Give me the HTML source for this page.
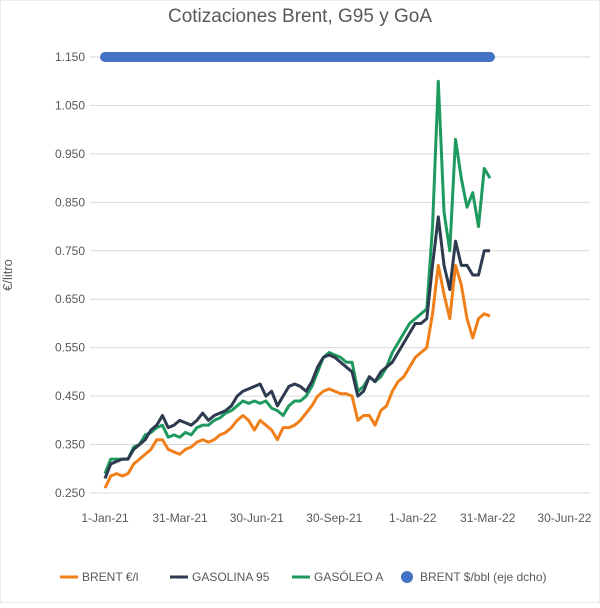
<!DOCTYPE html>
<html><head><meta charset="utf-8"><style>
body{margin:0;background:#fff;font-family:"Liberation Sans",sans-serif}
svg text{font-family:"Liberation Sans",sans-serif;fill:#595959}
</style></head><body>
<svg width="600" height="603">
<rect width="600" height="603" fill="#fff" stroke="#d9d9d9"/>
<text x="300" y="22" text-anchor="middle" font-size="19">Cotizaciones Brent, G95 y GoA</text>
<text transform="translate(12,275) rotate(-90)" text-anchor="middle" font-size="13">€/litro</text>
<g id="grid"></g><g id="xt"></g><g id="series"></g><g id="dots"></g>
<g id="legend" font-size="12"></g>
</svg>
<script>
const yTicks=[1.15,1.05,0.95,0.85,0.75,0.65,0.55,0.45,0.35,0.25];
const xTickLabels=["1-Jan-21","31-Mar-21","30-Jun-21","30-Sep-21","1-Jan-22","31-Mar-22","30-Jun-22"];
const xTickDays=[0,89,180,272,365,454,545];
const brent=[0.26,0.285,0.29,0.285,0.29,0.31,0.32,0.33,0.34,0.36,0.36,0.34,0.335,0.33,0.34,0.345,0.355,0.36,0.355,0.36,0.37,0.375,0.385,0.40,0.41,0.40,0.38,0.40,0.39,0.38,0.36,0.385,0.385,0.39,0.40,0.415,0.43,0.45,0.46,0.465,0.46,0.455,0.455,0.45,0.40,0.41,0.41,0.39,0.42,0.43,0.46,0.48,0.49,0.51,0.53,0.54,0.55,0.62,0.72,0.66,0.61,0.72,0.68,0.61,0.57,0.61,0.62,0.615];
const g95=[0.28,0.31,0.315,0.32,0.32,0.34,0.35,0.36,0.38,0.39,0.41,0.385,0.39,0.40,0.395,0.39,0.40,0.415,0.40,0.41,0.415,0.42,0.43,0.45,0.46,0.465,0.47,0.475,0.45,0.46,0.43,0.45,0.47,0.475,0.47,0.46,0.48,0.51,0.53,0.535,0.53,0.52,0.51,0.50,0.45,0.46,0.49,0.48,0.50,0.51,0.52,0.54,0.56,0.58,0.60,0.60,0.61,0.72,0.82,0.72,0.67,0.77,0.72,0.72,0.70,0.70,0.75,0.75];
const goa=[0.29,0.32,0.32,0.32,0.32,0.345,0.35,0.37,0.375,0.385,0.39,0.365,0.37,0.365,0.375,0.37,0.385,0.39,0.39,0.40,0.405,0.415,0.42,0.43,0.44,0.435,0.44,0.435,0.44,0.425,0.42,0.41,0.43,0.44,0.44,0.45,0.47,0.50,0.53,0.54,0.535,0.53,0.52,0.52,0.46,0.47,0.49,0.48,0.49,0.51,0.54,0.56,0.58,0.60,0.61,0.62,0.63,0.80,1.10,0.83,0.75,0.98,0.90,0.84,0.87,0.80,0.92,0.90];
const brentUsd=[51,55,56,58,61,64,66,62,63,65,68,70,72,73,75,73,71,68,72,70,69,72,75,80,84,83,82,79,78,80,85,95,100,105,120,110,105,107,110,112,104,100,110,118,123,125,120,118,115,116,113,110,108,110,112,115,118,124,130,112,100,115,108,105,104,106,107,106];
const NS="http://www.w3.org/2000/svg";
const x0=105,pxDay=0.843,y0=493,pxVal=484.4;
const X=d=>x0+d*pxDay, Y=v=>y0-(v-0.25)*pxVal;
const Y2=v=>Math.max(57,y0-(v-0)*20);
function mk(t,a,p){const e=document.createElementNS(NS,t);for(const k in a)e.setAttribute(k,a[k]);p.appendChild(e);return e;}
const grid=document.getElementById('grid');
yTicks.forEach(v=>{
 const l=mk('line',{x1:90,x2:590,y1:Y(v),y2:Y(v),stroke:'#d9d9d9'},grid);
 
 
 const t=mk('text',{x:85,y:Y(v)+4,'text-anchor':'end','font-size':12},grid);
 t.textContent=v.toFixed(3).replace('0.','0.');
 
 
});
const xt=document.getElementById('xt');
xTickLabels.forEach((s,i)=>{
 const t=mk('text',{x:X(xTickDays[i]),y:522,'text-anchor':'middle','font-size':12},xt);
 t.textContent=s;
 
 
});
const n=brent.length, step=(490-105)/(n-1)/pxDay;
const days=brent.map((_,i)=>i*step);
const ser=document.getElementById('series');
[[goa,'#1f9a5f','goa-line'],[g95,'#2d3a4f','g95-line'],[brent,'#f07f1a','brent-line']].forEach(([arr,c,nm])=>{
 const p=mk('polyline',{points:arr.map((v,i)=>X(days[i])+','+Y(v)).join(' '),fill:'none',stroke:c,'stroke-width':3,'stroke-linejoin':'round'},ser);
 
 
});
const dots=document.getElementById('dots');
for(let i=0;i<n-1;i++)for(let k=0;k<4;k++){
 const d=days[i]+step*k/4, v=brentUsd[i]+(brentUsd[i+1]-brentUsd[i])*k/4;
 const c=mk('circle',{cx:X(d),cy:Y2(v),r:5,fill:'#4472c4'},dots);
 
 
}
{const c=mk('circle',{cx:X(days[n-1]),cy:Y2(brentUsd[n-1]),r:5,fill:'#4472c4'},dots);
 
 }
const lg=document.getElementById('legend');
[['line','#f07f1a','BRENT €/l',60],['line','#2d3a4f','GASOLINA 95',170],['line','#1f9a5f','GASÓLEO A',292],['dot','#4472c4','BRENT $/bbl (eje dcho)',398]].forEach(([k,c,s,x])=>{
 const g=mk('g',{},lg);
 
 
 if(k=='line')mk('line',{x1:x,x2:x+18,y1:577,y2:577,stroke:c,'stroke-width':3},g);
 else mk('circle',{cx:x+9,cy:577,r:6,fill:c},g);
 const t=mk('text',{x:x+22,y:581,'font-size':12},g);t.textContent=s;
});
</script>
</body></html>
